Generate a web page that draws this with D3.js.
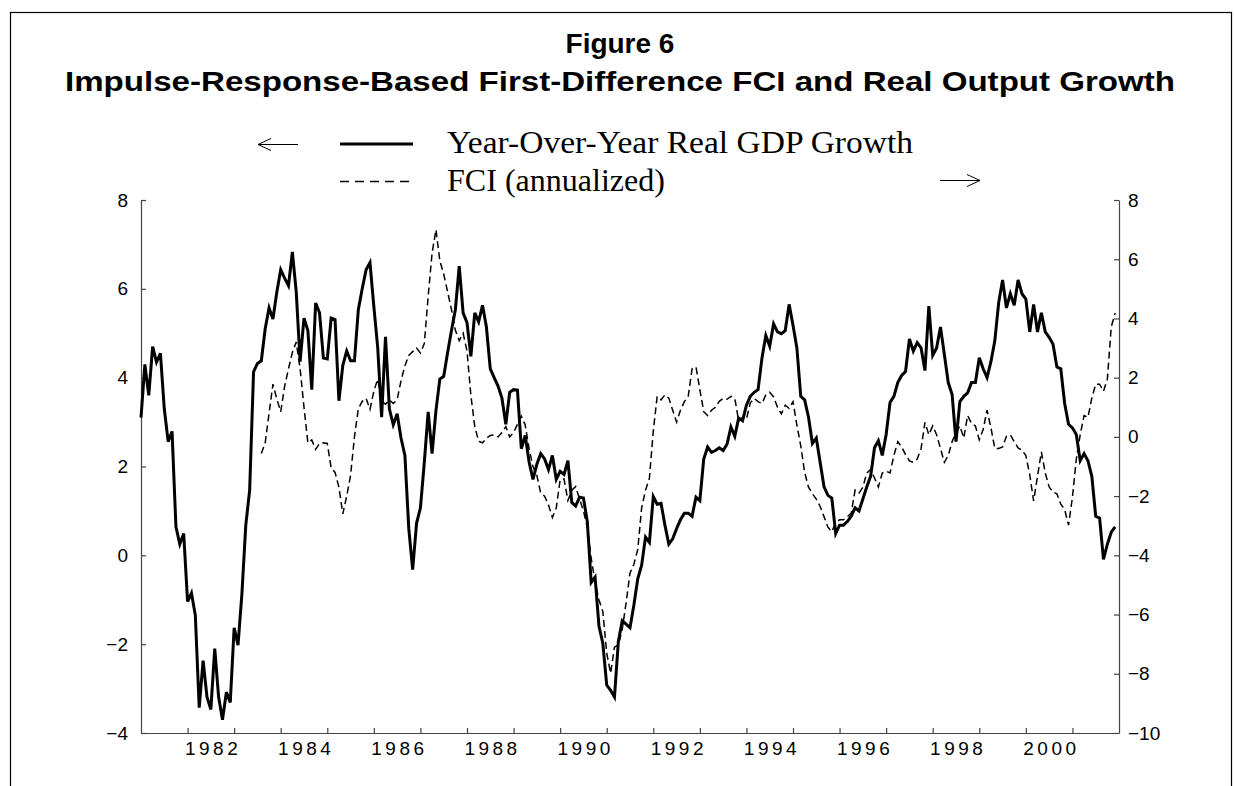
<!DOCTYPE html>
<html>
<head>
<meta charset="utf-8">
<script src="https://cdn.jsdelivr.net/npm/d3@7/dist/d3.min.js"></script>
<style>
  body { margin: 0; background: #fff; }
  svg { display: block; }
</style>
</head>
<body>
<svg id="chart" width="1234" height="786"></svg>
<script>
// monthly series, first value is 1981:01
let gdpStartYear = 1981
let gdpGrowth = [
  3.1, 4.3, 3.6, 4.7, 4.35, 4.55, 3.3, 2.56, 2.79, 0.64, 0.25, 0.49,
  -1.04, -0.85, -1.35, -3.43, -2.37, -3.19, -3.47, -2.1, -3.19, -3.7, -3.08, -3.31,
  -1.63, -2.02, -0.87, 0.68, 1.47, 4.13, 4.32, 4.38, 5.1, 5.57, 5.32, 5.93,
  6.43, 6.24, 6.07, 6.83, 5.93, 4.36, 5.34, 5.06, 3.73, 5.68, 5.46, 4.44,
  4.42, 5.34, 5.31, 3.48, 4.28, 4.6, 4.38, 4.38, 5.53, 6.0, 6.43, 6.59,
  5.6, 4.67, 3.11, 4.92, 3.3, 2.94, 3.19, 2.64, 2.25, 0.6, -0.32, 0.72,
  1.07, 2.09, 3.23, 2.29, 3.26, 3.97, 4.03, 4.56, 5.06, 5.53, 6.51, 5.46,
  5.24, 4.48, 5.46, 5.26, 5.63, 5.14, 4.2, 4.0, 3.81, 3.54, 2.95, 3.67,
  3.73, 3.72, 2.4, 2.7, 2.1, 1.71, 2.05, 2.29, 2.17, 1.93, 2.25, 1.71,
  1.89, 1.82, 2.13, 1.19, 1.11, 1.31, 1.29, 0.76, -0.61, -0.49, -1.59, -1.98,
  -2.92, -3.04, -3.19, -1.94, -1.47, -1.55, -1.63, -1.12, -0.53, -0.22, 0.41, 0.29,
  1.32, 1.15, 1.17, 0.68, 0.25, 0.37, 0.6, 0.8, 0.95, 0.95, 0.88, 1.31,
  1.23, 2.17, 2.44, 2.32, 2.36, 2.42, 2.36, 2.5, 2.89, 2.68, 3.09, 3.03,
  3.38, 3.58, 3.67, 3.73, 4.44, 4.95, 4.71, 5.21, 5.03, 4.99, 5.06, 5.65,
  5.18, 4.67, 3.58, 3.5, 3.11, 2.52, 2.64, 2.09, 1.54, 1.35, 1.29, 0.49,
  0.68, 0.68, 0.76, 0.88, 1.07, 1.0, 1.27, 1.54, 1.78, 2.42, 2.58, 2.25,
  2.72, 3.44, 3.58, 3.89, 4.05, 4.14, 4.87, 4.6, 4.79, 4.67, 4.16, 5.61,
  4.5, 4.67, 5.14, 4.52, 3.89, 3.62, 2.56, 3.46, 3.58, 3.66, 3.89, 3.89,
  4.45, 4.2, 4.0, 4.36, 4.83, 5.69, 6.2, 5.57, 5.89, 5.63, 6.2, 5.89,
  5.77, 5.03, 5.65, 5.03, 5.46, 5.03, 4.91, 4.75, 4.24, 4.2, 3.42, 2.95,
  2.87, 2.72, 2.13, 2.29, 2.13, 1.78, 0.88, 0.84, -0.09, 0.25, 0.52, 0.64
]

// monthly, first value is 1983:08
let fciStartYear = 1983 + 7 / 12
let fciAnnualized = [
  -0.56, -0.2, 0.8, 1.78, 1.28, 0.85, 1.7, 2.3, 2.85, 3.2, 2.3, 1.0,
  -0.2, -0.1, -0.42, -0.22, -0.2, -0.22, -1.05, -1.2, -1.7, -2.6, -2.0, -1.3,
  0.0, 0.95, 1.2, 1.3, 0.93, 1.55, 1.95, 1.2, 1.1, 1.25, 1.13, 1.25,
  1.9, 2.4, 2.75, 2.88, 3.0, 2.83, 3.15, 4.75, 6.2, 7.0, 5.95, 5.5,
  4.9, 4.3, 3.6, 3.25, 3.5, 2.9, 1.4, 0.35, -0.15, -0.2, -0.05, 0.05,
  0.07, 0.0, 0.15, 0.35, 0.0, 0.15, 0.42, 0.7, 0.4, -0.4, -1.0, -1.3,
  -1.9, -2.0, -2.3, -2.72, -2.4, -1.45, -1.42, -2.15, -1.8, -1.68, -2.1, -2.5,
  -3.05, -4.1, -4.9, -5.5, -5.9, -7.3, -7.98, -7.1, -7.03, -6.5, -5.6, -4.6,
  -4.3, -3.8, -2.4, -1.8, -1.4, 0.2, 1.37, 1.25, 1.42, 1.31, 0.9, 0.5,
  0.9, 1.19, 1.37, 2.3, 2.36, 1.6, 0.85, 0.72, 0.9, 1.0, 1.2, 1.3,
  1.27, 1.37, 1.3, 0.54, 0.66, 0.6, 1.15, 1.3, 1.19, 1.13, 1.42, 1.51,
  1.35, 1.0, 0.78, 1.07, 0.96, 1.19, 0.4, -0.3, -1.2, -1.7, -1.92, -2.1,
  -2.35, -2.7, -3.05, -3.2, -2.9, -2.8, -2.8, -2.7, -2.57, -1.8, -1.9, -1.7,
  -1.22, -1.1, -1.39, -1.69, -1.22, -1.16, -1.22, -0.63, -0.16, -0.34, -0.6, -0.81,
  -0.86, -0.75, -0.4, 0.49, 0.07, 0.37, 0.07, -0.39, -0.86, -0.63, -0.16, 0.13,
  0.37, -0.04, 0.72, 0.45, 0.37, -0.1, 0.25, 0.9, 0.31, -0.39, -0.39, -0.34,
  0.02, 0.07, -0.16, -0.37, -0.45, -0.63, -1.28, -2.16, -1.33, -0.51, -1.22, -1.69,
  -1.86, -1.92, -2.27, -2.45, -2.98, -2.04, -0.75, 0.07, 0.72, 0.66, 1.31, 1.78,
  1.78, 1.54, 1.95, 3.71, 4.18
]

let yearTicks = d3.range(1982, 2002)
let yearLabels = [1982, 1984, 1986, 1988, 1990, 1992, 1994, 1996, 1998, 2000]
let leftTicks = [-4, -2, 0, 2, 4, 6, 8]
let rightTicks = [-10, -8, -6, -4, -2, 0, 2, 4, 6, 8]

let titleLine1 = 'Figure 6'
let titleLine2 = 'Impulse-Response-Based First-Difference FCI and Real Output Growth'
let legendGdp = 'Year-Over-Year Real GDP Growth'
let legendFci = 'FCI (annualized)'

let margin = { top: 200, left: 141, right: 115, bottom: 53 }
let width = 1234 - margin.left - margin.right
let height = 786 - margin.top - margin.bottom

let svg = d3.select('#chart')

// frame around the whole figure
svg
  .append('rect')
  .attr('x', 10.5)
  .attr('y', 12.5)
  .attr('width', 1221)
  .attr('height', 800)
  .attr('fill', 'none')
  .attr('stroke', '#000')
  .attr('stroke-width', 1.2)

let xPositionScale = d3.scaleLinear().domain([1981, 2002]).range([0, width])
let yLeftScale = d3.scaleLinear().domain([-4, 8]).range([height, 0])
let yRightScale = d3.scaleLinear().domain([-10, 8]).range([height, 0])

let gdpData = gdpGrowth.map((v, i) => ({ date: gdpStartYear + i / 12, value: v }))
let fciData = fciAnnualized.map((v, i) => ({ date: fciStartYear + i / 12, value: v }))

let g = svg
  .append('g')
  .attr('transform', 'translate(' + margin.left + ',' + margin.top + ')')

// titles
svg
  .append('text')
  .text(titleLine1)
  .attr('x', 620)
  .attr('y', 53)
  .attr('text-anchor', 'middle')
  .attr('font-family', 'Liberation Sans, Arial, sans-serif')
  .attr('font-weight', 'bold')
  .attr('font-size', 28)

svg
  .append('text')
  .text(titleLine2)
  .attr('x', 620)
  .attr('y', 91)
  .attr('text-anchor', 'middle')
  .attr('font-family', 'Liberation Sans, Arial, sans-serif')
  .attr('font-weight', 'bold')
  .attr('font-size', 28)
  .attr('textLength', 1110)
  .attr('lengthAdjust', 'spacingAndGlyphs')

// legend
let legend = svg.append('g').attr('class', 'legend')

function arrow(x1, x2, y) {
  let dir = x2 > x1 ? 1 : -1
  legend
    .append('path')
    .attr('d', `M${x1},${y}H${x2}M${x2 - dir * 13},${y - 6}L${x2},${y}L${x2 - dir * 13},${y + 6}`)
    .attr('fill', 'none')
    .attr('stroke', '#000')
    .attr('stroke-width', 1)
}

arrow(298, 258, 144.5)
arrow(940, 980, 180.5)

legend
  .append('line')
  .attr('x1', 340).attr('x2', 413)
  .attr('y1', 144).attr('y2', 144)
  .attr('stroke', '#000')
  .attr('stroke-width', 3)

legend
  .append('line')
  .attr('x1', 340).attr('x2', 413)
  .attr('y1', 181.5).attr('y2', 181.5)
  .attr('stroke', '#000')
  .attr('stroke-width', 1.4)
  .attr('stroke-dasharray', '9,6')

legend
  .append('text')
  .text(legendGdp)
  .attr('x', 447)
  .attr('y', 153)
  .attr('font-family', 'Liberation Serif, Times New Roman, serif')
  .attr('font-size', 32)
  .attr('textLength', 466)
  .attr('lengthAdjust', 'spacingAndGlyphs')

legend
  .append('text')
  .text(legendFci)
  .attr('x', 447)
  .attr('y', 191)
  .attr('font-family', 'Liberation Serif, Times New Roman, serif')
  .attr('font-size', 32)
  .attr('textLength', 218)
  .attr('lengthAdjust', 'spacingAndGlyphs')

// axes
let axisColor = '#444'

let yAxisLeft = d3.axisLeft(yLeftScale).tickValues(leftTicks).tickSize(-5).tickSizeOuter(0).tickPadding(13)
g.append('g').attr('class', 'axis y-left').call(yAxisLeft)

let yAxisRight = d3.axisRight(yRightScale).tickValues(rightTicks).tickSize(-5).tickSizeOuter(0).tickPadding(9)
g.append('g')
  .attr('class', 'axis y-right')
  .attr('transform', `translate(${width},0)`)
  .call(yAxisRight)

let xAxisTicks = d3.axisBottom(xPositionScale).tickValues(yearTicks).tickSize(-5).tickSizeOuter(0).tickFormat('')
g.append('g')
  .attr('class', 'axis x-ticks')
  .attr('transform', `translate(0,${height})`)
  .call(xAxisTicks)

// year labels sit in the middle of each year
let xAxisLabels = d3
  .axisBottom(xPositionScale)
  .tickValues(yearLabels.map(d => d + 0.5))
  .tickSize(0)
  .tickPadding(9)
  .tickFormat(d => Math.floor(d))
g.append('g')
  .attr('class', 'axis x-labels')
  .attr('transform', `translate(0,${height})`)
  .call(xAxisLabels)
g.select('.x-labels .domain').remove()

g.selectAll('.axis .domain, .axis line')
  .attr('stroke', axisColor)
  .attr('stroke-width', 1.2)

g.selectAll('.axis text')
  .attr('font-family', 'Liberation Sans, Arial, sans-serif')
  .attr('font-size', 19)
  .attr('fill', '#000')

g.selectAll('.x-labels text')
  .attr('letter-spacing', 3.5)
  .attr('dx', 1.75)

// lines
let gdpLine = d3
  .line()
  .x(d => xPositionScale(d.date))
  .y(d => yLeftScale(d.value))

let fciLine = d3
  .line()
  .x(d => xPositionScale(d.date))
  .y(d => yRightScale(d.value))

g.append('path')
  .datum(fciData)
  .attr('d', fciLine)
  .attr('fill', 'none')
  .attr('stroke', '#000')
  .attr('stroke-width', 1.5)
  .attr('stroke-dasharray', '7,4')

g.append('path')
  .datum(gdpData)
  .attr('d', gdpLine)
  .attr('fill', 'none')
  .attr('stroke', '#000')
  .attr('stroke-width', 3)
  .attr('stroke-linejoin', 'miter')
</script>
</body>
</html>
